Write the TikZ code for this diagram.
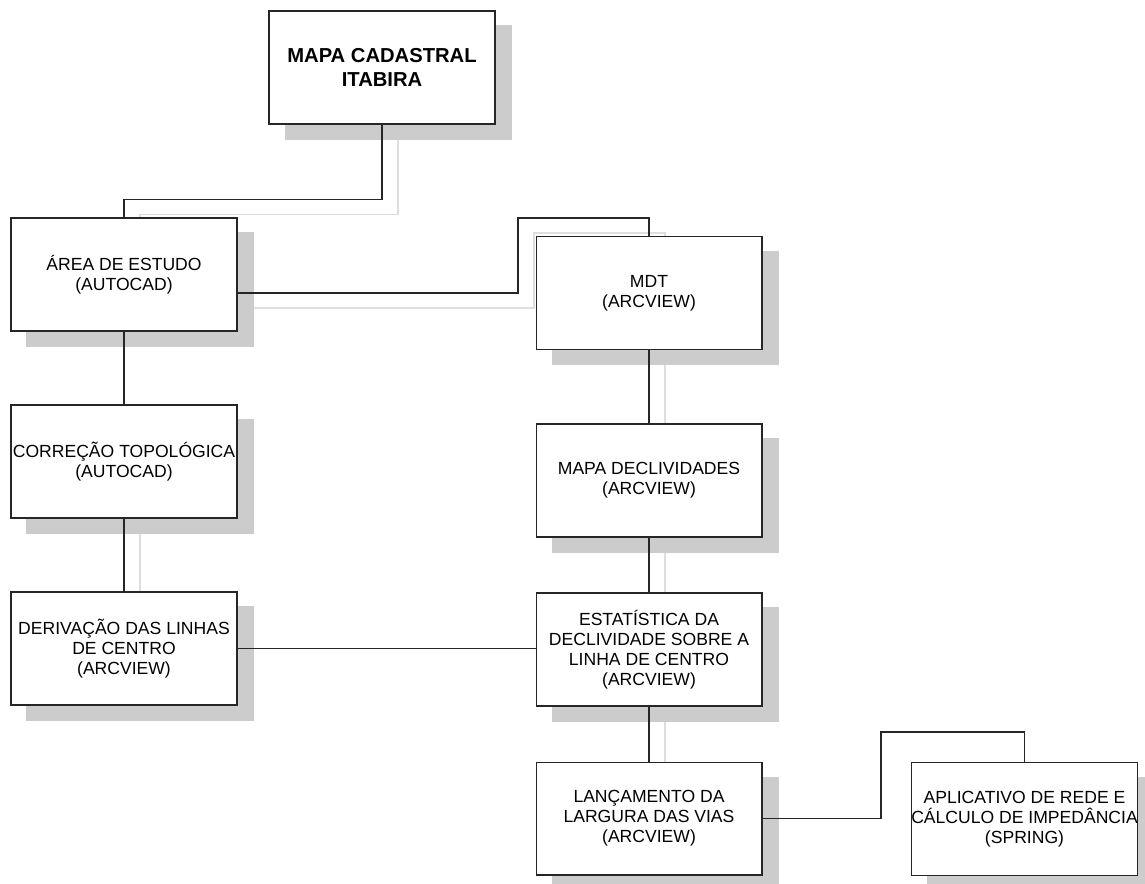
\documentclass[tikz,border=0pt]{standalone}
\usepackage{fontspec}
\setmainfont{Liberation Sans}
\pgfdeclarelayer{bg}
\pgfsetlayers{bg,main}

\begin{document}
\begin{tikzpicture}[x=0.02cm, y=-0.02cm,
        caixa/.style={draw=black!85, line width=.6pt, fill=white, minimum width=4.52cm, minimum height=2.26cm, inner sep=0pt, align=center, font=\fontsize{10}{11.4}\selectfont},
        liga/.style={draw=black!85, line width=.6pt},
        ligasombra/.style={draw=black!13, line width=.6pt},
        sombra/.style={transform canvas={shift={(16,15)}}}]
        \useasboundingbox (0,0) rectangle (1145,883);
        % caixas
        \node[caixa, font=\fontsize{11.5}{13.7}\selectfont\bfseries] (mapa) at (382,67.5) {MAPA CADASTRAL\\ITABIRA};
        \node[caixa] (area) at (124,274.5) {ÁREA DE ESTUDO\\(AUTOCAD)};
        \node[caixa] (corr) at (124,461.5) {CORREÇÃO TOPOLÓGICA\\(AUTOCAD)};
        \node[caixa] (deriv) at (124,648.5) {DERIVAÇÃO DAS LINHAS\\DE CENTRO\\(ARCVIEW)};
        \node[caixa] (mdt) at (649,293) {MDT\\(ARCVIEW)};
        \node[caixa] (decliv) at (649,480.5) {MAPA DECLIVIDADES\\(ARCVIEW)};
        \node[caixa] (estat) at (649,649.5) {ESTATÍSTICA DA\\DECLIVIDADE SOBRE A\\LINHA DE CENTRO\\(ARCVIEW)};
        \node[caixa] (lanc) at (649,818.5) {LANÇAMENTO DA\\LARGURA DAS VIAS\\(ARCVIEW)};
        \node[caixa, minimum width=4.5cm] (aplic) at (1024.5,819) {APLICATIVO DE REDE E\\CÁLCULO DE IMPEDÂNCIA\\(SPRING)};
        \begin{pgfonlayer}{bg}
            % sombras
            \begin{scope}[sombra]
                \draw[ligasombra] (mapa.south) -- ++(0,75) -| (area.north);
                \draw[ligasombra] (area.east |- mdt.west) -| (518,218) -| (mdt.north);
                \draw[ligasombra] (corr) -- (deriv);
                \draw[ligasombra] (mdt) -- (decliv) -- (estat) -- (lanc);
                \foreach \n in {mapa,area,corr,deriv,mdt,decliv,estat,lanc,aplic}
                    \fill[black!20] (\n.north west) rectangle (\n.south east);
            \end{scope}
            % ligacoes
            \draw[liga] (mapa.south) -- ++(0,75) -| (area.north);
            \draw[liga] (area.east |- mdt.west) -| (518,218) -| (mdt.north);
            \draw[liga] (area) -- (corr) -- (deriv);
            \draw[liga] (deriv.east) -- (deriv.east -| estat.west);
            \draw[liga] (mdt) -- (decliv) -- (estat) -- (lanc);
            \draw[liga] (lanc.east) -| (881,732) -| (aplic.north);
        \end{pgfonlayer}
    \end{tikzpicture}
\end{document}
